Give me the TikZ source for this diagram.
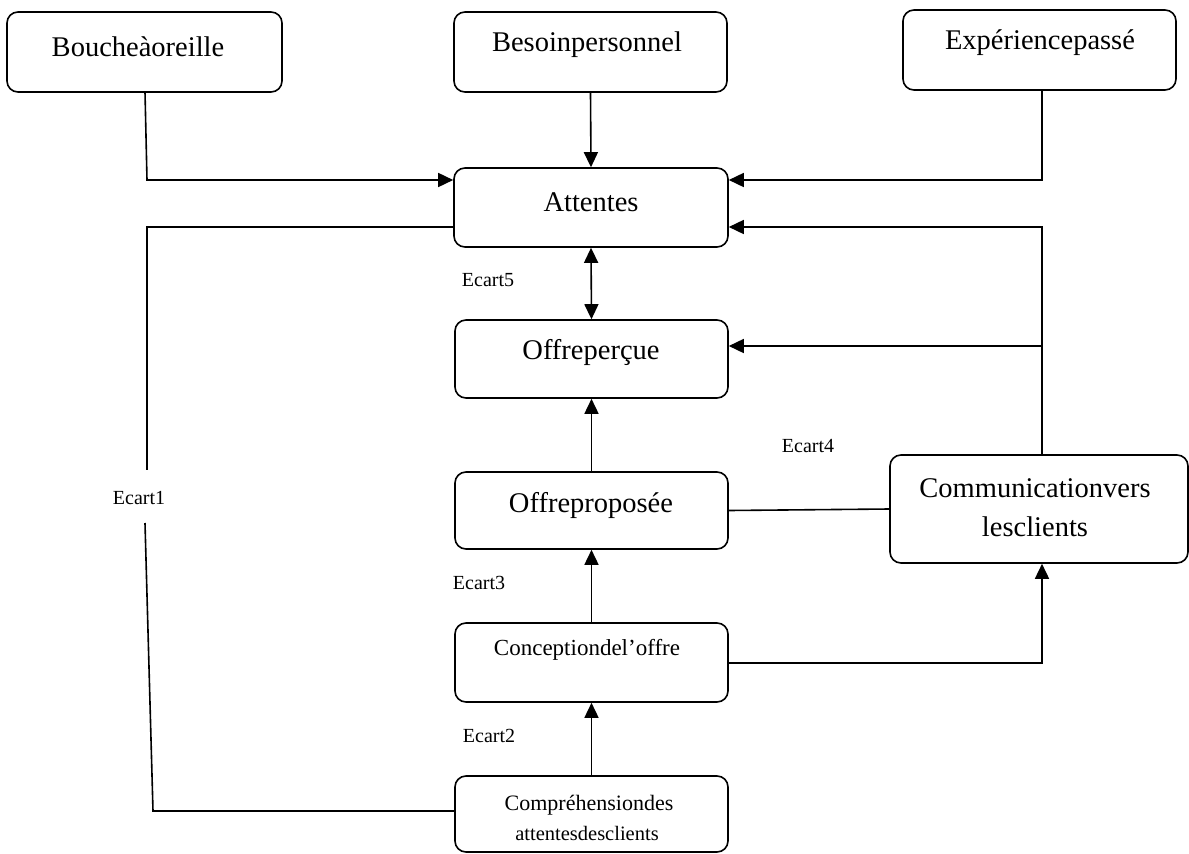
\documentclass[tikz,border=0pt]{standalone}
\usepackage{fontspec}
\setmainfont{Liberation Serif}
\usetikzlibrary{arrows.meta}

\begin{document}
\begin{tikzpicture}[x=1pt,y=-1pt,
  box/.style={draw, line width=1.6pt, rounded corners=11pt, inner sep=0pt},
  lbl/.style={inner sep=0pt, font=\fontsize{28.5}{32}\selectfont},
  gap/.style={inner sep=0pt, font=\fontsize{20}{24}\selectfont},
  link/.style={line width=1.6pt},
  arr/.style={link, -{Triangle[length=15pt,width=14pt]}},
  darr/.style={link, {Triangle[length=15pt,width=14pt]}-{Triangle[length=15pt,width=14pt]}}]
\useasboundingbox (0,0) rectangle (1189,854);

% boxes
\node[box, minimum width=275pt, minimum height=80pt] (bouche)   at (144.5,52) {};
\node[box, minimum width=273pt, minimum height=80pt] (besoin)   at (590.5,52) {};
\node[box, minimum width=273pt, minimum height=80pt] (exper)    at (1039.5,50) {};
\node[box, minimum width=274pt, minimum height=79pt] (attentes) at (591,207.5) {};
\node[box, minimum width=273pt, minimum height=78pt] (percue)   at (591.5,359) {};
\node[box, minimum width=273pt, minimum height=77pt] (proposee) at (591.5,510.5) {};
\node[box, minimum width=298pt, minimum height=108pt] (comm)    at (1039,509) {};
\node[box, minimum width=273pt, minimum height=79pt] (concept)  at (591.5,662.5) {};
\node[box, minimum width=273pt, minimum height=76pt] (compr)    at (591.5,814) {};

% box texts
\node[lbl] (tbouche)   at (138,47)   {Boucheàoreille};
\node[lbl] (tbesoin)   at (587,45)   {Besoinpersonnel};
\node[lbl] (texper)    at (1040,43)  {Expériencepassé};
\node[lbl] (tattentes) at (591,202)  {Attentes};
\node[lbl] (tpercue)   at (591,352)  {Offreperçue};
\node[lbl] (tproposee) at (591,505)  {Offreproposée};
\node[lbl] (tcomm1)    at (1035,488) {Communicationvers};
\node[lbl] (tcomm2)    at (1035,527) {lesclients};
\node[inner sep=0pt, font=\fontsize{23}{26}\selectfont] (tconcept) at (587,650) {Conceptiondel’offre};
\node[inner sep=0pt, font=\fontsize{22}{26}\selectfont] (tcompr1) at (589,805) {Compréhensiondes};
\node[inner sep=0pt, font=\fontsize{20.5}{24}\selectfont] (tcompr2) at (587,833) {attentesdesclients};

% gap labels
\node[gap] (ecart5) at (488,280) {Ecart5};
\node[gap] (ecart4) at (808,446) {Ecart4};
\node[gap] (ecart3) at (479,583) {Ecart3};
\node[gap] (ecart2) at (489,736) {Ecart2};
\node[gap] (ecart1) at (139,498) {Ecart1};

% junction points
\coordinate (b1) at (147,180);
\coordinate (b0) at (145,92);
\coordinate (e1) at (1042,180);
\coordinate (c1) at (1042,227);
\coordinate (c2) at (1042,346);
\coordinate (d1) at (1042,663);
\coordinate (g1) at (147,227);
\coordinate (g2) at (147,470);
\coordinate (g3) at (145,523);
\coordinate (g4) at (153,811);

% influences on expectations
\draw[arr] (b0) -- (b1) -- (attentes.west |- b1);
\draw[arr] (besoin.south) -- (attentes.north);
\draw[arr] (exper.south -| e1) |- (attentes.east |- e1);
\draw[arr] (comm.north -| c1) |- (attentes.east |- c1);
\draw[arr] (c2) -- (percue.east |- c2);

% central chain
\draw[darr] (attentes.south) -- (percue.north);
\draw[arr] (proposee.north) -- (percue.south);
\draw[arr] (concept.north) -- (proposee.south);
\draw[arr] (compr.north) -- (concept.south);

% communication links
\draw[arr] (concept.east |- d1) -| (comm.south -| d1);
\draw[link] (proposee.east) -- (comm.west);

% gap 1 loop
\draw[link] (attentes.west |- g1) -- (g1) -- (g2);
\draw[link] (g3) -- (g4) -- (compr.west |- g4);
\end{tikzpicture}
\end{document}
